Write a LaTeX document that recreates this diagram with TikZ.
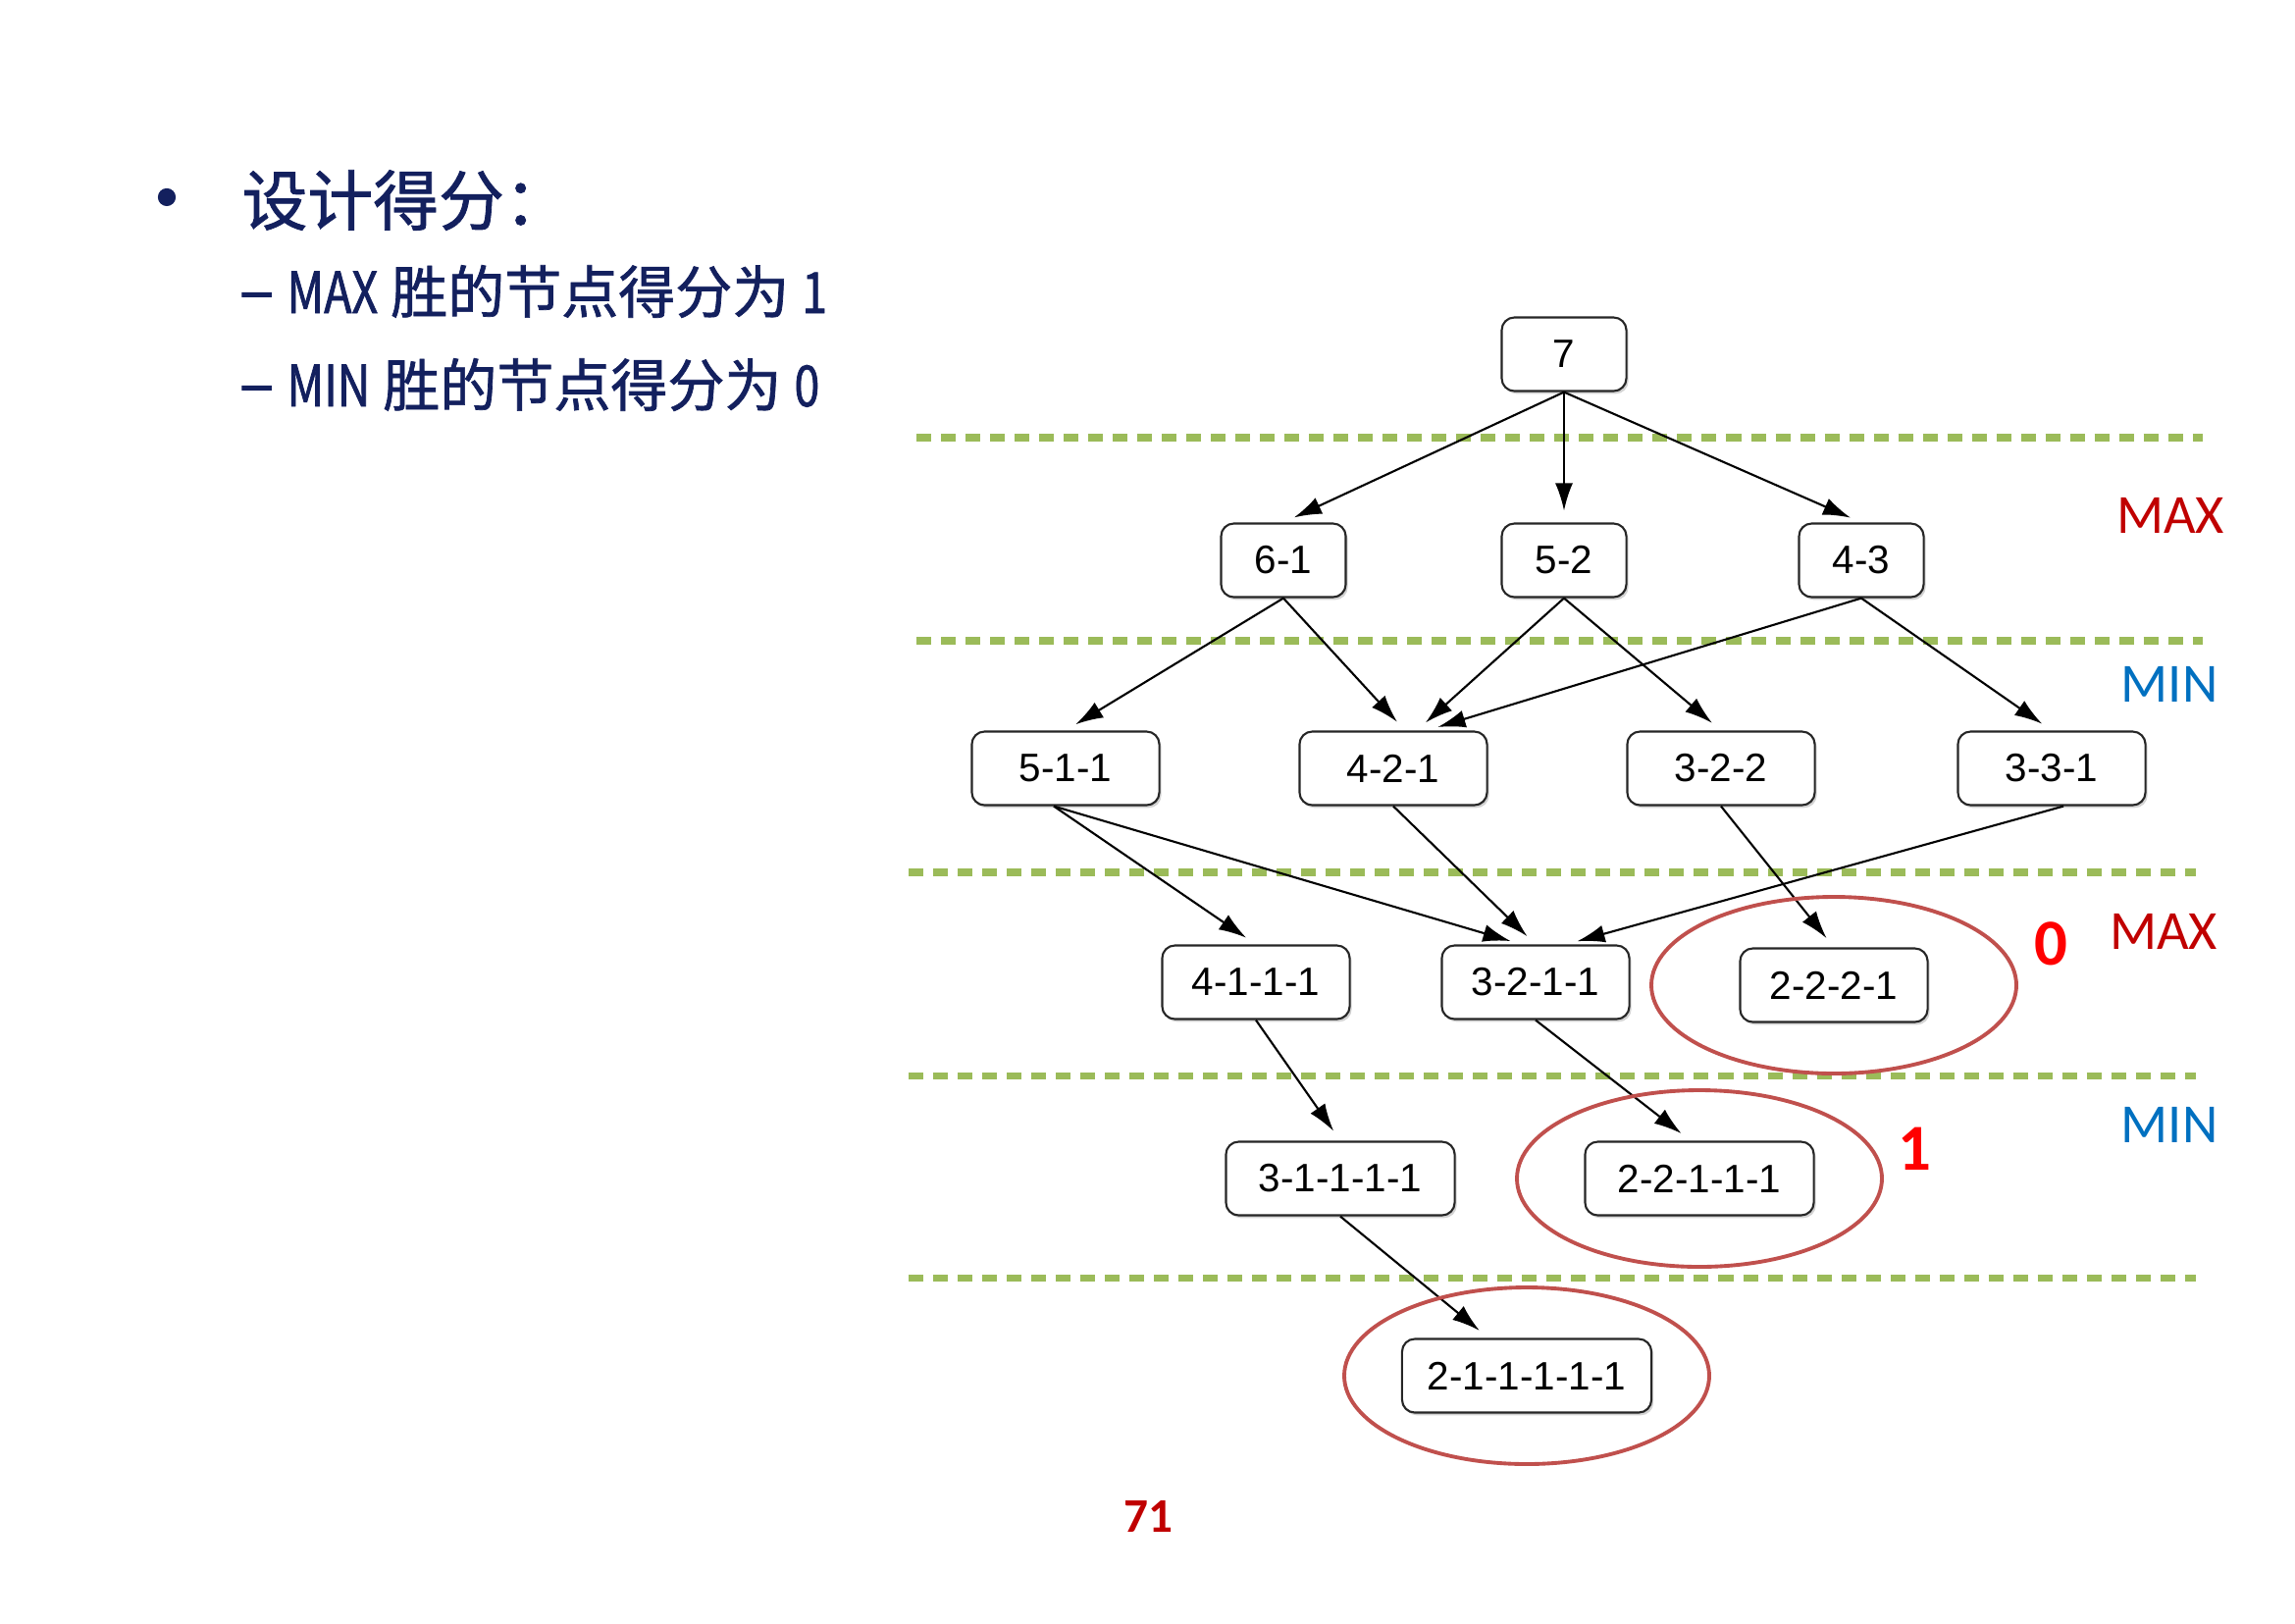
\documentclass[tikz,border=0pt]{standalone}
\usepackage{fontspec}
\usetikzlibrary{arrows.meta,shadows}
\setmainfont{Liberation Sans}
\newfontfamily\cjk[FakeBold=1.2]{Noto Sans CJK SC}
\newfontfamily\cjknarrow[FakeStretch=0.8,FakeBold=1.2]{Noto Sans CJK SC}
\newfontfamily\calib{Carlito}
\definecolor{navy}{HTML}{13205E}
\definecolor{maxred}{HTML}{C00000}
\definecolor{minblue}{HTML}{0070C0}
\definecolor{lime}{HTML}{9BBB59}
\definecolor{ring}{HTML}{C0504D}
\tikzset{
state/.style={draw=black!85,line width=0.6pt,rounded corners=0.13cm,fill=white,
  minimum height=0.75cm,minimum width=#1,inner sep=0pt,font=\fontsize{11.5}{13}\selectfont,
  drop shadow={shadow xshift=0.6pt,shadow yshift=-0.8pt,opacity=0.35}},
state/.default=1.27cm,
rank/.style={draw=lime,line width=2pt,dash pattern=on 0.15cm off 0.1cm},
arr/.style={-{Latex[length=2.8mm,width=1.8mm]},line width=0.6pt,shorten >=0.12cm},
ringed/.style={draw=ring,line width=1.1pt},
player/.style={font=\calib\fontsize{16}{18}\selectfont},
score/.style={font=\calib\bfseries\fontsize{19}{21}\selectfont,text=red},
bullettext/.style={anchor=west,text=navy,inner sep=0pt}
}

\begin{document}
\begin{tikzpicture}[x=0.01cm,y=-0.01cm]
\useasboundingbox (0,0) rectangle (2339,1654);
\node[bullettext,anchor=center,font=\cjk\fontsize{23}{25}\selectfont] (dot) at (170,212) {•};
\node[bullettext,font=\cjk\fontsize{19}{21}\selectfont] (title) at (246,204) {设计得分：};
\node[bullettext,font=\cjk\fontsize{16.5}{18}\selectfont] (maxwin) at (243,297) {{\fontsize{19}{21}\selectfont –} {\cjknarrow MAX} 胜的节点得分为 {\cjknarrow 1}};
\node[bullettext,font=\cjk\fontsize{16.5}{18}\selectfont] (minwin) at (243,392) {{\fontsize{19}{21}\selectfont –} {\cjknarrow MIN} 胜的节点得分为 {\cjknarrow 0}};
\draw[rank] (934,446) -- (2245,446);
\draw[rank] (934,653) -- (2245,653);
\draw[rank] (926,889) -- (2238,889);
\draw[rank] (926,1096) -- (2238,1096);
\draw[rank] (926,1302) -- (2238,1302);
\node[state] (n7) at (1594,361) {7};
\node[state] (n61) at (1308,571) {6-1};
\node[state] (n52) at (1594,571) {5-2};
\node[state] (n43) at (1897,571) {4-3};
\node[state=1.91cm] (n511) at (1086,783) {5-1-1};
\node[state=1.91cm] (n421) at (1420,783) {4-2-1};
\node[state=1.91cm] (n322) at (1754,783) {3-2-2};
\node[state=1.91cm] (n331) at (2091,783) {3-3-1};
\node[state=1.91cm] (n4111) at (1280,1001) {4-1-1-1};
\node[state=1.91cm] (n3211) at (1565,1001) {3-2-1-1};
\node[state=1.91cm] (n2221) at (1869,1004) {2-2-2-1};
\node[state=2.33cm] (n31111) at (1366,1201) {3-1-1-1-1};
\node[state=2.33cm] (n22111) at (1732,1201) {2-2-1-1-1};
\node[state=2.54cm] (n211111) at (1556,1402) {2-1-1-1-1-1};
\draw[arr] (n7.south) -- (n61.north);
\draw[arr] (n7.south) -- (n52.north);
\draw[arr] (n7.south) -- (n43.north);
\draw[arr] (n61.south) -- (n511.north);
\draw[arr] (n61.south) -- ([xshift=0.12cm]n421.north);
\draw[arr] (n52.south) -- ([xshift=0.24cm]n421.north);
\draw[arr] (n52.south) -- (n322.north);
\draw[arr] (n43.south) -- ([xshift=0.34cm]n421.north);
\draw[arr] (n43.south) -- (n331.north);
\draw[arr] ([xshift=-0.12cm]n511.south) -- (n4111.north);
\draw[arr] ([xshift=-0.12cm]n511.south) -- ([xshift=-0.14cm]n3211.north);
\draw[arr] (n421.south) -- (n3211.north);
\draw[arr] ([xshift=0.12cm]n331.south) -- ([xshift=0.31cm]n3211.north);
\draw[arr] (n322.south) -- (n2221.north);
\draw[arr] (n4111.south) -- (n31111.north);
\draw[arr] (n3211.south) -- ([xshift=-0.09cm]n22111.north);
\draw[arr] (n31111.south) -- ([xshift=-0.39cm]n211111.north);
\draw[ringed] (n2221) ellipse [x radius=186,y radius=90];
\draw[ringed] (n22111) ellipse [x radius=186,y radius=90];
\draw[ringed] (n211111) ellipse [x radius=186,y radius=90];
\node[player,text=maxred] (max1) at (2212,525) {MAX};
\node[player,text=minblue] (min1) at (2211,697) {MIN};
\node[player,text=maxred] (max2) at (2205,949) {MAX};
\node[player,text=minblue] (min2) at (2211,1146) {MIN};
\node[score] (zero) at (2090,962) {0};
\node[score] (one) at (1951,1171) {1};
\node[font=\calib\bfseries\fontsize{14}{16}\selectfont,text=maxred] (page) at (1170,1545) {71};
\end{tikzpicture}
\end{document}
